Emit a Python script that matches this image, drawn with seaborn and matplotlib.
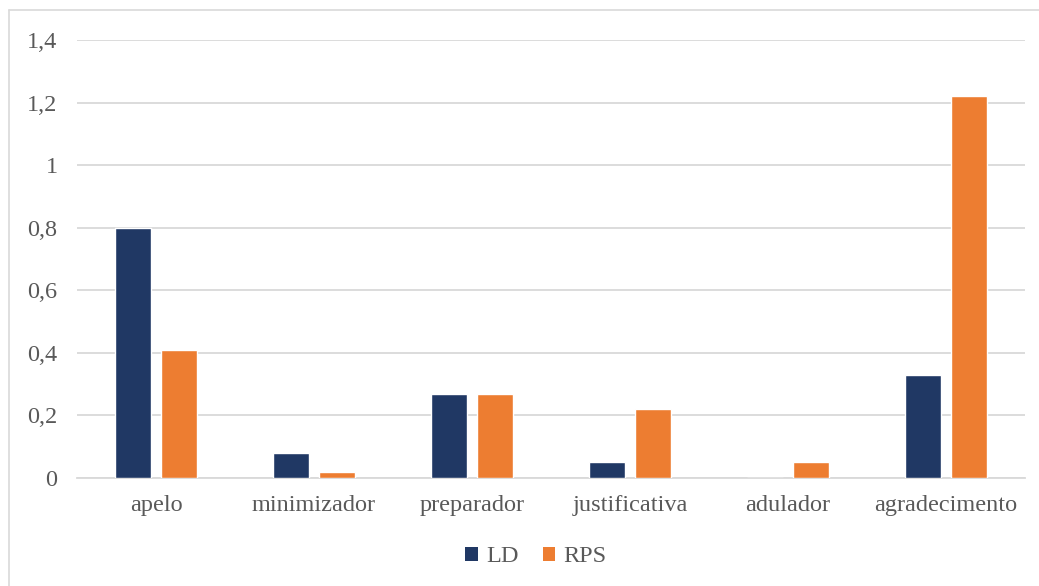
import matplotlib
matplotlib.use("Agg")
import matplotlib.pyplot as plt
import seaborn as sns
import pandas as pd
from matplotlib.patches import Patch
from matplotlib.lines import Line2D
from matplotlib.ticker import FuncFormatter

categories = ["apelo", "minimizador", "preparador", "justificativa", "adulador", "agradecimento"]
ld_values = [0.80, 0.08, 0.27, 0.05, 0.0, 0.33]
rps_values = [0.41, 0.02, 0.27, 0.22, 0.05, 1.22]
series_names = ["LD", "RPS"]
y_ticks = [0, 0.2, 0.4, 0.6, 0.8, 1.0, 1.2, 1.4]

df = pd.DataFrame({
    "categoria": categories * 2,
    "valor": ld_values + rps_values,
    "serie": [series_names[0]] * len(categories) + [series_names[1]] * len(categories),
})

sns.set_theme(style="white")
plt.rcParams["font.family"] = ["Liberation Serif", "DejaVu Serif"]

text_color = "#595959"
grid_color = "#D9D9D9"
palette = {"LD": "#203864", "RPS": "#ED7D31"}

fig = plt.figure(figsize=(10.39, 5.86), dpi=100)
ax = fig.add_axes([77 / 1039, 1 - 478 / 586, (1025 - 77) / 1039, (478 - 40) / 586])

sns.barplot(data=df, x="categoria", y="valor", hue="serie", order=categories,
            hue_order=series_names, palette=palette, width=0.57, gap=0.2,
            saturation=1, ax=ax, legend=False, zorder=3)

ax.set_ylim(0, 1.4)
ax.set_yticks(y_ticks)
ax.yaxis.set_major_formatter(FuncFormatter(lambda v, p: f"{v:g}".replace(".", ",")))
ax.set_xlim(-0.5, len(categories) - 0.5)
ax.grid(axis="y", color=grid_color, linewidth=1.3, zorder=0)
ax.set_axisbelow(True)
for side in ["left", "right", "top"]:
    ax.spines[side].set_visible(False)
ax.spines["bottom"].set_color(grid_color)
ax.spines["bottom"].set_linewidth(1.3)
ax.set_xlabel("")
ax.set_ylabel("")
ax.tick_params(axis="both", length=0, labelsize=17.5, colors=text_color)
ax.tick_params(axis="x", pad=12)
ax.tick_params(axis="y", pad=14)

handles = [Patch(facecolor=palette[s], edgecolor="none") for s in series_names]
leg = fig.legend(handles, series_names, loc="center", bbox_to_anchor=(536 / 1039, 1 - 557 / 586),
                 ncol=2, frameon=False, fontsize=17.5, handlelength=0.5, handleheight=0.5,
                 handletextpad=0.35, columnspacing=1.0)
for t in leg.get_texts():
    t.set_color(text_color)

# light chart-area frame on the left and top edges
fig.add_artist(Line2D([9 / 1039, 9 / 1039], [0, 1 - 10 / 586], transform=fig.transFigure,
                      color=grid_color, linewidth=1.2))
fig.add_artist(Line2D([9 / 1039, 1], [1 - 10 / 586, 1 - 10 / 586], transform=fig.transFigure,
                      color=grid_color, linewidth=1.2))

fig.savefig("out.png", dpi=100)
